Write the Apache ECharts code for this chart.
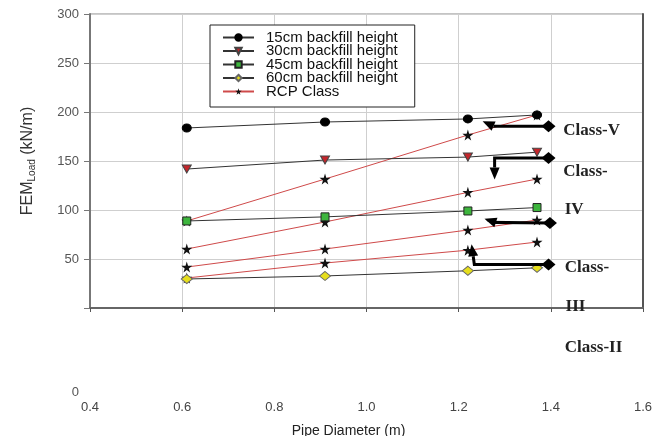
<!DOCTYPE html>
<html>
<head>
<meta charset="utf-8">
<script src="https://cdn.jsdelivr.net/npm/echarts@6/dist/echarts.min.js"></script>
<style>
html,body{margin:0;padding:0;background:#fff;}
#chart{width:661px;height:436px;}
</style>
</head>
<body>
<div id="chart"></div>
<script>
// ---- data ----
const pipeDiameters = [0.61, 0.91, 1.22, 1.37];
const fem15 = [183.7, 189.8, 192.9, 197.0];
const fem30 = [141.8, 151.0, 154.0, 159.0];
const fem45 = [88.8, 93.0, 99.0, 102.5];
const fem60 = [29.6, 32.7, 38.0, 41.0];
const rcpClassV = [88.8, 131.6, 176.5, 197.0];
const rcpClassIV = [60.2, 87.8, 118.0, 131.6];
const rcpClassIII = [41.8, 60.2, 79.6, 89.8];
const rcpClassII = [30.6, 45.9, 59.0, 67.3];
const seriesNames = ['15cm backfill height', '30cm backfill height', '45cm backfill height', '60cm backfill height', 'RCP Class'];
const xMin = 0.4, xMax = 1.6, xStep = 0.2;
const yMin = 0, yMax = 300, yStep = 50;
// annotation arrows (data coordinates): diamond end, corner, arrow tip
const arrows = [
  {diamond: [1.395, 185.5], corner: [1.276, 185.5], tip: [1.252, 190.5]},
  {diamond: [1.395, 153.0], corner: [1.278, 153.0], tip: [1.278, 131.0]},
  {diamond: [1.398, 86.7], corner: [1.280, 87.3], tip: [1.256, 91.0]},
  {diamond: [1.395, 44.5], corner: [1.234, 44.5], tip: [1.228, 65.0]}
];
// class labels (data coordinates of left/middle)
const classLabels = [
  {text: 'Class-V', at: [1.427, 180.6]},
  {text: 'Class-', at: [1.427, 138.8]},
  {text: 'IV', at: [1.43, 100.0]},
  {text: 'Class-', at: [1.43, 40.8]},
  {text: 'III', at: [1.432, 1.0]},
  {text: 'Class-II', at: [1.43, -40.8]}
];

const SANS = 'Liberation Sans, Arial, sans-serif';
const SERIF = 'Liberation Serif, Times New Roman, serif';
const starPath = 'path://M50,0 L61,35 L98,35 L68,57 L79,91 L50,70 L21,91 L32,57 L2,35 L39,35 Z';

function pairs(vals){ return pipeDiameters.map((x,i)=>[x, vals[i]]); }

const chart = echarts.init(document.getElementById('chart'), null, {renderer:'canvas'});

function femSeries(name, vals, symbol, size, color, border, rotate){
  return {
    name: name, type: 'line', data: pairs(vals),
    symbol: symbol, symbolSize: size, symbolRotate: rotate || 0,
    showAllSymbol: true,
    lineStyle: {color: '#333', width: 1},
    itemStyle: {color: color, borderColor: border, borderWidth: 1},
    z: 3
  };
}
function rcpSeries(vals){
  return {
    name: 'RCP Class', type: 'line', data: pairs(vals),
    symbol: starPath, symbolSize: 11,
    lineStyle: {color: '#cf4a4a', width: 1},
    itemStyle: {color: '#111', borderWidth: 0},
    z: 2
  };
}

const option = {
  animation: false,
  backgroundColor: '#fff',
  grid: {left: 90, right: 18, top: 14, bottom: 128, show: true, borderColor: '#888', borderWidth: 1,
         containLabel: false, outerBoundsMode: 'none'},
  legend: {
    data: seriesNames,
    orient: 'vertical', left: 210, top: 25,
    itemWidth: 31, itemHeight: 8, itemGap: -1.5,
    padding: [5, 17, 8, 12],
    backgroundColor: '#fff', borderColor: '#222', borderWidth: 1,
    textStyle: {fontFamily: SANS, fontSize: 15, color: '#111', padding: [0,0,0,7]}
  },
  xAxis: {
    type: 'value', min: xMin, max: xMax, interval: xStep,
    name: 'Pipe Diameter (m)', nameLocation: 'middle', nameGap: 116,
    nameTextStyle: {fontFamily: SANS, fontSize: 14, color: '#222', padding: [0, 36, 0, 0]},
    axisLine: {show: true, lineStyle: {color: '#666', width: 2}},
    axisTick: {show: true, length: 4, lineStyle: {color: '#555'}},
    axisLabel: {margin: 93, fontFamily: SANS, fontSize: 13, color: '#444', formatter: v => v.toFixed(1)},
    splitLine: {show: true, lineStyle: {color: '#cfcfcf', width: 1}}
  },
  yAxis: [{
    type: 'value', min: yMin, max: yMax, interval: yStep,
    name: '{a|FEM}{b|Load}{a| (kN/m)}', nameLocation: 'middle', nameGap: 52, nameRotate: 90,
    nameTextStyle: {rich: {
      a: {fontFamily: SANS, fontSize: 16, color: '#333', lineHeight: 20},
      b: {fontFamily: SANS, fontSize: 10, color: '#333', lineHeight: 20, padding: [8, 0, 0, 0]}
    }},
    axisLine: {show: true, lineStyle: {color: '#777', width: 2}},
    axisTick: {show: true, length: 6, lineStyle: {color: '#777'}},
    axisLabel: {margin: 11, fontFamily: SANS, fontSize: 13, color: '#555', formatter: v => v === 0 ? '' : String(v)},
    splitLine: {show: true, lineStyle: {color: '#cfcfcf', width: 1}}
  }, {
    type: 'value', min: yMin, max: yMax, interval: yStep, position: 'right',
    axisLine: {show: true, lineStyle: {color: '#555', width: 2}},
    axisTick: {show: false}, axisLabel: {show: false}, splitLine: {show: false}
  }],
  series: [
    femSeries(seriesNames[0], fem15, 'circle', [9, 8], '#000', '#000'),
    femSeries(seriesNames[1], fem30, 'triangle', [9, 8], '#c4262b', '#444', 180),
    femSeries(seriesNames[2], fem45, 'rect', [8, 8], '#3db53d', '#222'),
    femSeries(seriesNames[3], fem60, 'diamond', [11, 9], '#e6de1c', '#666'),
    rcpSeries(rcpClassV),
    rcpSeries(rcpClassIV),
    rcpSeries(rcpClassIII),
    rcpSeries(rcpClassII)
  ]
};
chart.setOption(option);

function px(p){ return chart.convertToPixel({gridIndex: 0}, p); }
const graphics = [];
arrows.forEach(a => {
  const D = px(a.diamond), C = px(a.corner), T = px(a.tip);
  let dx = T[0]-C[0], dy = T[1]-C[1];
  const len = Math.sqrt(dx*dx+dy*dy) || 1; dx/=len; dy/=len;
  const hl = 12, hw = 5;
  const B = [T[0]-dx*hl, T[1]-dy*hl];
  const nx = -dy, ny = dx;
  graphics.push({type:'polyline', z: 50, shape:{points:[D, C, B]}, style:{stroke:'#000', lineWidth:3, fill:null}});
  graphics.push({type:'polygon', z: 51, shape:{points:[T, [B[0]+nx*hw, B[1]+ny*hw], [B[0]-nx*hw, B[1]-ny*hw]]}, style:{fill:'#000'}});
  graphics.push({type:'polygon', z: 51, shape:{points:[[D[0]-7, D[1]], [D[0], D[1]-6], [D[0]+7, D[1]], [D[0], D[1]+6]]}, style:{fill:'#000'}});
});
classLabels.forEach(c => {
  const P = px(c.at);
  graphics.push({type:'text', z: 60, x: P[0], y: P[1], style:{text: c.text, fill:'#222', font: 'bold 17px ' + SERIF, textAlign:'left', textVerticalAlign:'middle'}});
});
// the zero tick label of the y axis, drawn where the reference shows it
const zp = px([xMin, yMin]);
graphics.push({type:'text', z: 60, x: zp[0]-11, y: 392, style:{text: String(yMin), fill:'#555', font: '13px ' + SANS, textAlign:'right', textVerticalAlign:'middle'}});
chart.setOption({graphic: graphics});
</script>
</body>
</html>
